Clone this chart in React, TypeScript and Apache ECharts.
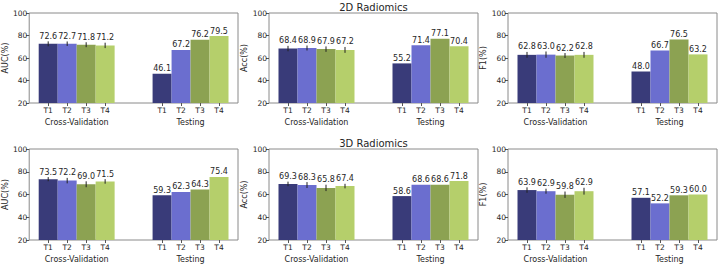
import React, { useEffect, useRef } from "react";
import * as echarts from "echarts";

const GROUPS = ["Cross-Validation", "Testing"];
const CATEGORIES = ["T1", "T2", "T3", "T4"];
const COLORS = ["#393b79", "#6b6ecf", "#8ca252", "#b5cf6b"];

// 2D Radiomics
const AUC_2D_CV = [72.6, 72.7, 71.8, 71.2];
const AUC_2D_CV_ERR = [2.2, 2.0, 2.2, 2.4];
const AUC_2D_TEST = [46.1, 67.2, 76.2, 79.5];
const ACC_2D_CV = [68.4, 68.9, 67.9, 67.2];
const ACC_2D_CV_ERR = [2.4, 2.2, 2.4, 2.6];
const ACC_2D_TEST = [55.2, 71.4, 77.1, 70.4];
const F1_2D_CV = [62.8, 63.0, 62.2, 62.8];
const F1_2D_CV_ERR = [2.6, 2.8, 2.2, 2.6];
const F1_2D_TEST = [48.0, 66.7, 76.5, 63.2];

// 3D Radiomics
const AUC_3D_CV = [73.5, 72.2, 69.0, 71.5];
const AUC_3D_CV_ERR = [1.8, 2.4, 2.6, 2.0];
const AUC_3D_TEST = [59.3, 62.3, 64.3, 75.4];
const ACC_3D_CV = [69.3, 68.3, 65.8, 67.4];
const ACC_3D_CV_ERR = [2.0, 2.6, 2.8, 2.0];
const ACC_3D_TEST = [58.6, 68.6, 68.6, 71.8];
const F1_3D_CV = [63.9, 62.9, 59.8, 62.9];
const F1_3D_CV_ERR = [2.4, 2.2, 2.8, 3.0];
const F1_3D_TEST = [57.1, 52.2, 59.3, 60.0];

const TITLES = ["2D Radiomics", "3D Radiomics"];
const METRICS = ["AUC(%)", "Acc(%)", "F1(%)"];

const PANELS = [
  [
    { cv: AUC_2D_CV, err: AUC_2D_CV_ERR, test: AUC_2D_TEST },
    { cv: ACC_2D_CV, err: ACC_2D_CV_ERR, test: ACC_2D_TEST },
    { cv: F1_2D_CV, err: F1_2D_CV_ERR, test: F1_2D_TEST },
  ],
  [
    { cv: AUC_3D_CV, err: AUC_3D_CV_ERR, test: AUC_3D_TEST },
    { cv: ACC_3D_CV, err: ACC_3D_CV_ERR, test: ACC_3D_TEST },
    { cv: F1_3D_CV, err: F1_3D_CV_ERR, test: F1_3D_TEST },
  ],
];

const FONT = "DejaVu Sans";
const TEXT = "#262626";
const TEST_OFFSET = 6;
const TICK_POS = [0, 1, 2, 3, 6, 7, 8, 9];
const GROUP_POS = [1.5, 7.5];

const COL_LEFT = [29, 269, 508];
const ROW_TOP = [13, 149];
const ROW_H = [90, 91];
const PANEL_W = 209;

export default function App() {
  const ref = useRef<HTMLDivElement>(null);
  useEffect(() => {
    document.body.style.margin = "0";
    if (!ref.current) return;
    const chart = echarts.init(ref.current, null, { renderer: "svg" });
    const grid: any[] = [];
    const xAxis: any[] = [];
    const yAxis: any[] = [];
    const series: any[] = [];
    const graphic: any[] = [];
    PANELS.forEach((row, r) => {
      row.forEach((p, c) => {
        const gi = r * 3 + c;
        grid.push({
          left: COL_LEFT[c],
          top: ROW_TOP[r],
          width: PANEL_W,
          height: ROW_H[r],
          show: true,
          borderColor: "#8a8a8a",
          borderWidth: 1,
          backgroundColor: "transparent",
        });
        xAxis.push({
          type: "value",
          gridIndex: gi,
          position: "bottom",
          min: -1,
          max: 10,
          axisLine: { show: false, onZero: false },
          splitLine: { show: false },
          axisTick: { show: true, customValues: TICK_POS, length: 3, lineStyle: { color: "#555" } },
          axisLabel: {
            customValues: TICK_POS,
            margin: 3,
            fontSize: 7.5,
            fontFamily: FONT,
            color: TEXT,
            formatter: (v: number) => CATEGORIES[Math.round(v) % TEST_OFFSET] ?? "",
          },
        });
        xAxis.push({
          type: "value",
          gridIndex: gi,
          position: "bottom",
          offset: 0,
          min: -1,
          max: 10,
          axisLine: { show: false, onZero: false },
          splitLine: { show: false },
          axisTick: { show: false, customValues: GROUP_POS },
          axisLabel: {
            customValues: GROUP_POS,
            margin: 15,
            fontSize: 8,
            fontFamily: FONT,
            color: TEXT,
            formatter: (v: number) => (v < 5 ? GROUPS[0] : GROUPS[1]),
          },
        });
        yAxis.push({
          type: "value",
          gridIndex: gi,
          position: "left",
          min: 20,
          max: 100,
          interval: 20,
          axisLine: { show: false, onZero: false },
          splitLine: { show: false },
          axisTick: { show: true, length: 3, lineStyle: { color: "#555" } },
          axisLabel: { margin: 2, fontSize: 7.5, fontFamily: FONT, color: TEXT },
          name: METRICS[c],
          nameLocation: "middle",
          nameGap: 11,
          nameTextStyle: { fontSize: 8, fontFamily: FONT, color: TEXT },
        });
        const data: any[] = [];
        p.cv.forEach((v, i) => data.push([i, v, p.err[i], i]));
        p.test.forEach((v, i) => data.push([i + TEST_OFFSET, v, 0, i]));
        series.push({
          type: "custom",
          xAxisIndex: gi * 2,
          yAxisIndex: gi,
          encode: { x: 0, y: 1 },
          data,
          clip: false,
          renderItem: (params: any, api: any) => {
            const x = api.value(0);
            const y = api.value(1);
            const e = api.value(2);
            const ci = api.value(3);
            const base = api.coord([x, 20]);
            const top = api.coord([x, y]);
            const w = api.size([1, 0])[0];
            const children: any[] = [
              {
                type: "rect",
                shape: { x: top[0] - w / 2, y: top[1], width: w, height: base[1] - top[1] },
                style: { fill: COLORS[ci] },
              },
            ];
            let labelY = top[1];
            if (e > 0) {
              const lo = api.coord([x, y - e]);
              const hi = api.coord([x, y + e]);
              children.push({
                type: "line",
                shape: { x1: lo[0], y1: lo[1], x2: hi[0], y2: hi[1] },
                style: { stroke: "#222", lineWidth: 1 },
              });
              labelY = hi[1];
            }
            children.push({
              type: "text",
              x: top[0],
              y: labelY - 1,
              style: {
                text: y.toFixed(1),
                fontSize: 8,
                fontFamily: FONT,
                fill: TEXT,
                align: "center",
                verticalAlign: "bottom",
              },
            });
            return { type: "group", children };
          },
        });
      });
      graphic.push({
        type: "text",
        x: COL_LEFT[1] + PANEL_W / 2,
        y: ROW_TOP[r] - 6,
        style: {
          text: TITLES[r],
          fontSize: 10,
          fontFamily: FONT,
          fill: TEXT,
          align: "center",
          verticalAlign: "middle",
        },
      });
    });
    chart.setOption({
      animation: false,
      backgroundColor: "#ffffff",
      grid,
      xAxis,
      yAxis,
      series,
      graphic,
    });
    return () => chart.dispose();
  }, []);
  return <div ref={ref} style={{ width: 720, height: 266 }} />;
}
